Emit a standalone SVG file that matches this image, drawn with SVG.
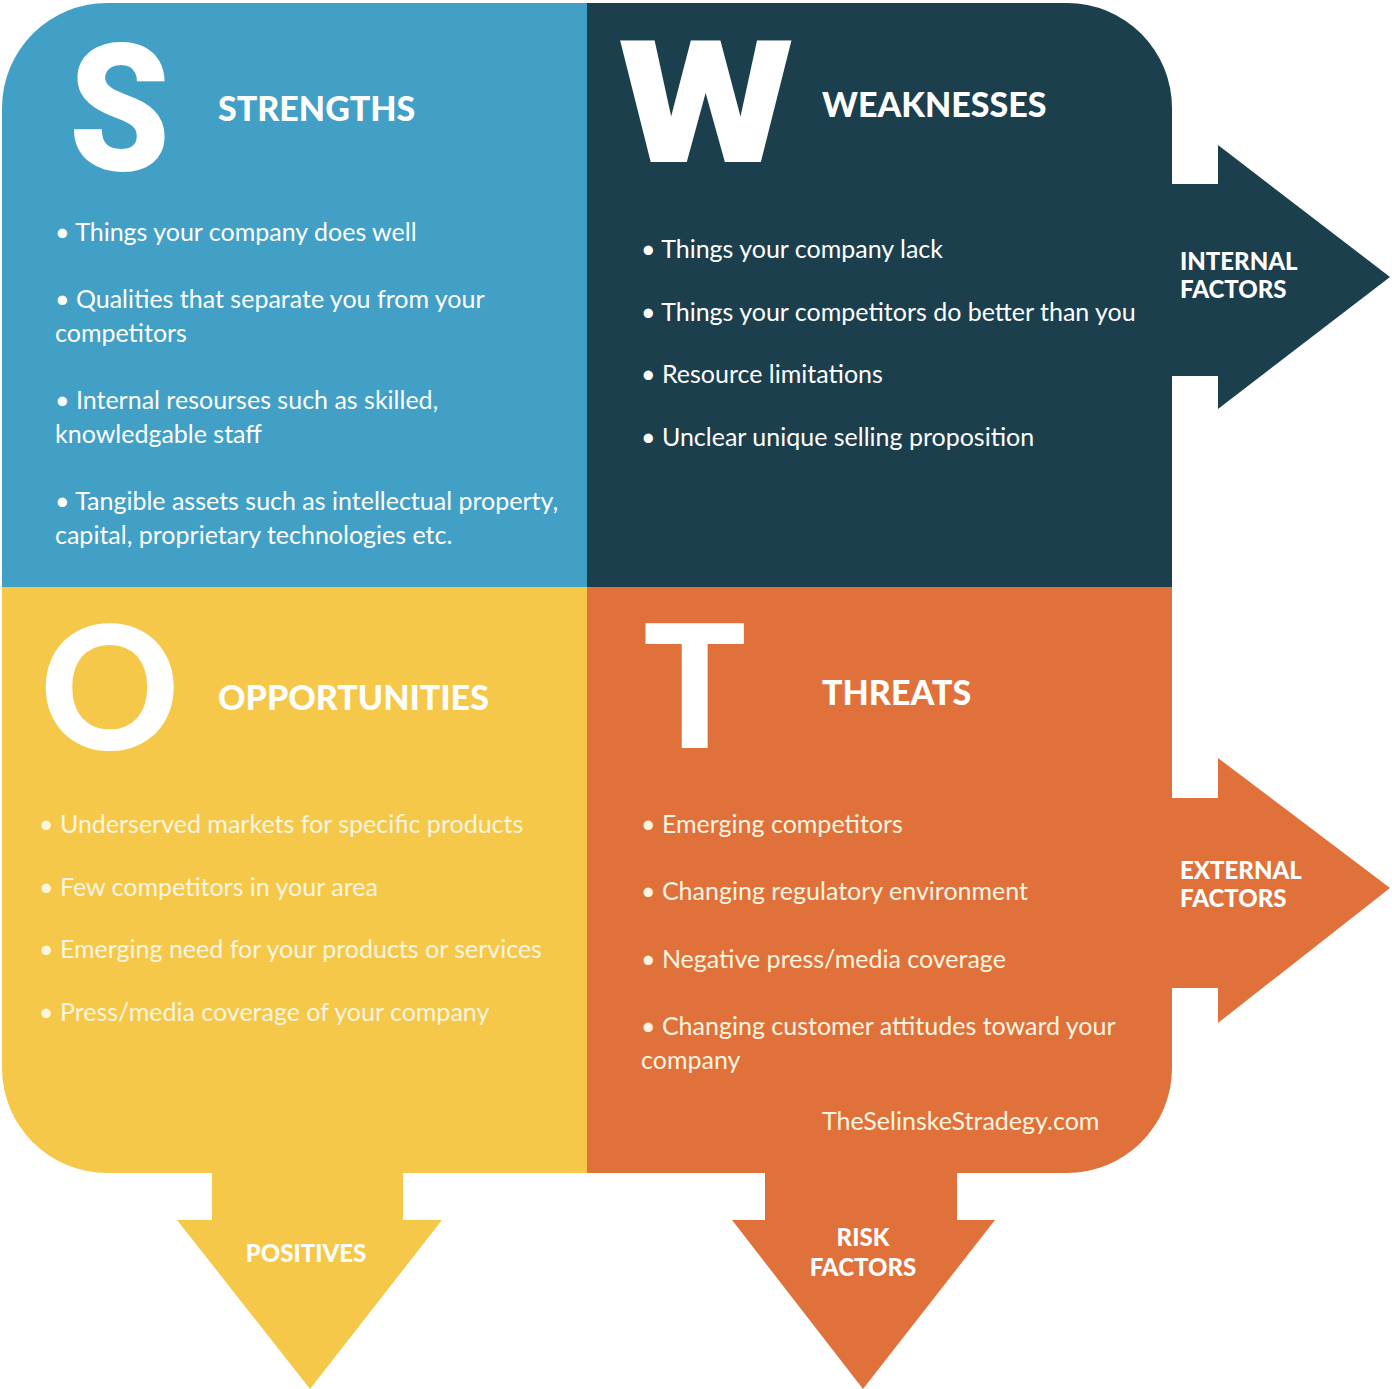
<svg xmlns="http://www.w3.org/2000/svg" width="1392" height="1389" viewBox="0 0 1392 1389">
<style>
.big{font-family:Lato,"Liberation Sans",sans-serif;font-weight:900;fill:#fff}
.big2{font-family:Roboto,"Liberation Sans",sans-serif;font-weight:900;fill:#fff}
.hd{font-family:Lato,"Liberation Sans",sans-serif;font-weight:900;font-size:34px;fill:#fff}
.tx{font-family:Lato,"Liberation Sans",sans-serif;font-weight:400;font-size:25px;fill:#fff}
.cream{fill:#fdf5e0}
.lbl{font-family:Lato,"Liberation Sans",sans-serif;font-weight:900;font-size:24px;fill:#fff}
</style>
<rect width="1392" height="1389" fill="#fff"/>
<g id="arrows">
<polygon points="1170,184 1218,184 1218,145 1390,277 1218,409 1218,376 1170,376" fill="#1c3f4e"/>
<polygon points="1170,798 1218,798 1218,758 1390,888 1218,1023 1218,988 1170,988" fill="#e1713b"/>
<polygon points="212,1170 403,1170 403,1220 442,1220 310,1389 177,1220 212,1220" fill="#f6c84a"/>
<polygon points="765,1170 957,1170 957,1220 995,1220 863,1389 732,1220 765,1220" fill="#e1713b"/>
<text class="lbl" x="1180" y="270">INTERNAL</text>
<text class="lbl" x="1180" y="298">FACTORS</text>
<text class="lbl" x="1180" y="879">EXTERNAL</text>
<text class="lbl" x="1180" y="907">FACTORS</text>
<text class="lbl" x="306" y="1262" text-anchor="middle">POSITIVES</text>
<text class="lbl" x="863" y="1246" text-anchor="middle">RISK</text>
<text class="lbl" x="863" y="1276" text-anchor="middle">FACTORS</text>
</g>
<g id="strengths">
<path d="M2,108 A105,105 0 0 1 107,3 L588,3 L588,588 L2,588 Z" fill="#42a0c7"/>
<text class="big2" x="69" y="170" font-size="178" textLength="101" lengthAdjust="spacingAndGlyphs">S</text>
<text class="hd" x="218" y="121">STRENGTHS</text>
<text class="tx" x="55" y="241">• Things your company does well</text>
<text class="tx" x="55" y="308">• Qualities that separate you from your</text>
<text class="tx" x="55" y="342">competitors</text>
<text class="tx" x="55" y="409">• Internal resourses such as skilled,</text>
<text class="tx" x="55" y="443">knowledgable staff</text>
<text class="tx" x="55" y="510">• Tangible assets such as intellectual property,</text>
<text class="tx" x="55" y="544">capital, proprietary technologies etc.</text>
</g>
<g id="weaknesses">
<path d="M587,3 L1067,3 A105,105 0 0 1 1172,108 L1172,588 L587,588 Z" fill="#1c3f4e"/>
<text class="big2" x="618" y="162" font-size="171" textLength="176" lengthAdjust="spacingAndGlyphs">W</text>
<text class="hd" x="822" y="117">WEAKNESSES</text>
<text class="tx" x="641" y="258">• Things your company lack</text>
<text class="tx" x="641" y="321">• Things your competitors do better than you</text>
<text class="tx" x="641" y="383">• Resource limitations</text>
<text class="tx" x="641" y="446">• Unclear unique selling proposition</text>
</g>
<g id="opportunities">
<path d="M2,587 L588,587 L588,1173 L107,1173 A105,105 0 0 1 2,1068 Z" fill="#f6c84a"/>
<text class="big" x="40" y="750" font-size="172">O</text>
<text class="hd" x="218" y="710">OPPORTUNITIES</text>
<text class="tx cream" x="39" y="833">• Underserved markets for specific products</text>
<text class="tx cream" x="39" y="896">• Few competitors in your area</text>
<text class="tx cream" x="39" y="958">• Emerging need for your products or services</text>
<text class="tx cream" x="39" y="1021">• Press/media coverage of your company</text>
</g>
<g id="threats">
<path d="M587,587 L1172,587 L1172,1068 A105,105 0 0 1 1067,1173 L587,1173 Z" fill="#e1713b"/>
<text class="big" x="643" y="748" font-size="171">T</text>
<text class="hd" x="822" y="705">THREATS</text>
<text class="tx cream" x="641" y="833">• Emerging competitors</text>
<text class="tx cream" x="641" y="900">• Changing regulatory environment</text>
<text class="tx cream" x="641" y="968">• Negative press/media coverage</text>
<text class="tx cream" x="641" y="1035">• Changing customer attitudes toward your</text>
<text class="tx cream" x="641" y="1069">company</text>
<text class="tx cream" x="822" y="1130">TheSelinskeStradegy.com</text>
</g>
</svg>
